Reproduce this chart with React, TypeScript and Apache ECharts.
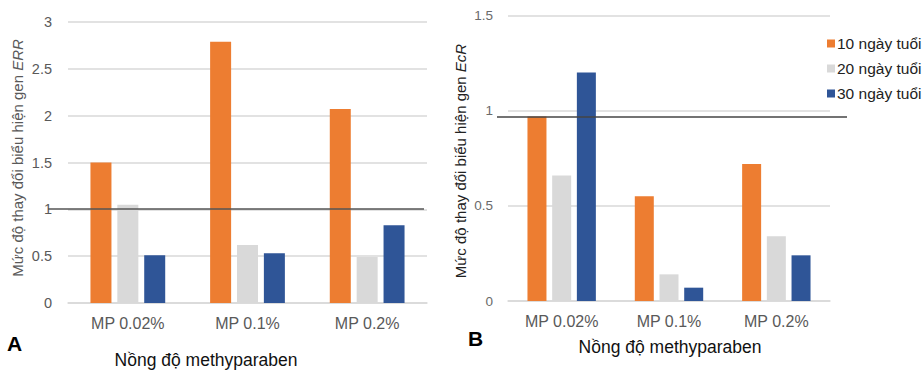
import React, { useEffect, useRef } from "react";
import * as echarts from "echarts";

const categories = ["MP 0.02%", "MP 0.1%", "MP 0.2%"];
const seriesNames = ["10 ngày tuổi", "20 ngày tuổi", "30 ngày tuổi"];
const colors = ["#ED7D31", "#D9D9D9", "#2F5597"];

// Panel A: ERR
const errDay10 = [1.5, 2.79, 2.07];
const errDay20 = [1.05, 0.62, 0.49];
const errDay30 = [0.51, 0.53, 0.83];
const errRefLine = 1.01;

// Panel B: EcR
const ecrDay10 = [0.97, 0.55, 0.72];
const ecrDay20 = [0.66, 0.14, 0.34];
const ecrDay30 = [1.2, 0.07, 0.24];
const ecrRefLine = 0.968;

const FONT = "Liberation Sans, Arial, sans-serif";

export default function App() {
  const ref = useRef<HTMLDivElement>(null);

  useEffect(() => {
    if (!ref.current) return;
    const chart = echarts.init(ref.current, undefined, { renderer: "svg" });

    const mkSeries = (
      name: string,
      data: number[],
      color: string,
      idx: number,
      barWidth: number,
      barGap: string,
      markLine?: any
    ) => ({
      type: "bar",
      name,
      data,
      xAxisIndex: idx,
      yAxisIndex: idx,
      barWidth,
      barGap,
      itemStyle: { color },
      markLine,
    });

    const lineA = {
      silent: true,
      symbol: "none",
      label: { show: false },
      lineStyle: { color: "#555555", width: 1.5, type: "solid" },
      data: [[{ xAxis: 0, yAxis: errRefLine, x: 48 }, { xAxis: 2, yAxis: errRefLine, x: 424 }]],
    };
    const lineB = {
      silent: true,
      symbol: "none",
      label: { show: false },
      lineStyle: { color: "#444444", width: 1.5, type: "solid" },
      data: [[{ xAxis: 0, yAxis: ecrRefLine, x: 497 }, { xAxis: 2, yAxis: ecrRefLine, x: 847 }]],
    };

    const xAxisCommon = {
      type: "category",
      data: categories,
      axisLine: { lineStyle: { color: "#d9d9d9", width: 1.5 } },
      axisTick: { show: false },
      axisLabel: { color: "#595959", fontSize: 16, fontFamily: FONT, margin: 12 },
    };

    chart.setOption({
      animation: false,
      textStyle: { fontFamily: FONT },
      legend: {
        data: seriesNames,
        orient: "vertical",
        left: 822,
        top: 30.5,
        itemWidth: 8,
        itemHeight: 8,
        itemGap: 9,
        icon: "rect",
        textStyle: { fontSize: 15.5, color: "#222", fontFamily: FONT, padding: [0, 0, 0, -3] },
      },
      grid: [
        { left: 68, top: 22, width: 359, height: 281 },
        { left: 508, top: 15.5, width: 322, height: 285.5 },
      ],
      xAxis: [
        { ...xAxisCommon, gridIndex: 0 },
        { ...xAxisCommon, gridIndex: 1 },
      ],
      yAxis: [
        {
          type: "value",
          gridIndex: 0,
          min: 0,
          max: 3,
          interval: 0.5,
          axisLine: { show: false },
          axisTick: { show: false },
          splitLine: { lineStyle: { color: "#d9d9d9", width: 1.5 } },
          axisLabel: { color: "#595959", fontSize: 14.5, fontFamily: FONT, margin: 16 },
        },
        {
          type: "value",
          gridIndex: 1,
          min: 0,
          max: 1.5,
          interval: 0.5,
          axisLine: { show: false },
          axisTick: { show: false },
          splitLine: { lineStyle: { color: "#d9d9d9", width: 1.5 } },
          axisLabel: { color: "#6a6a6a", fontSize: 13.5, fontFamily: FONT, margin: 15 },
        },
      ],
      series: [
        mkSeries(seriesNames[0], errDay10, colors[0], 0, 21, "28%", lineA),
        mkSeries(seriesNames[1], errDay20, colors[1], 0, 21, "28%"),
        mkSeries(seriesNames[2], errDay30, colors[2], 0, 21, "28%"),
        mkSeries(seriesNames[0], ecrDay10, colors[0], 1, 19, "30%", lineB),
        mkSeries(seriesNames[1], ecrDay20, colors[1], 1, 19, "30%"),
        mkSeries(seriesNames[2], ecrDay30, colors[2], 1, 19, "30%"),
      ],
      graphic: [
        {
          type: "text",
          x: 17,
          y: 158,
          rotation: Math.PI / 2,
          style: {
            text: "{n|Mức độ thay đổi biểu hiện gen }{i|ERR}",
            align: "center",
            verticalAlign: "middle",
            rich: {
              n: { fontSize: 15, fontFamily: FONT, fill: "#595959" },
              i: { fontSize: 15, fontFamily: FONT, fill: "#595959", fontStyle: "italic" },
            },
          },
        },
        {
          type: "text",
          x: 460,
          y: 161,
          rotation: Math.PI / 2,
          style: {
            text: "{n|Mức độ thay đổi biểu hiện gen }{i|EcR}",
            align: "center",
            verticalAlign: "middle",
            rich: {
              n: { fontSize: 15, fontFamily: FONT, fill: "#222222" },
              i: { fontSize: 15, fontFamily: FONT, fill: "#222222", fontStyle: "italic" },
            },
          },
        },
        {
          type: "text",
          x: 206,
          y: 360,
          style: {
            text: "Nồng độ methyparaben",
            fontSize: 17.5,
            fontFamily: FONT,
            fill: "#111",
            align: "center",
            verticalAlign: "middle",
          },
        },
        {
          type: "text",
          x: 670,
          y: 347,
          style: {
            text: "Nồng độ methyparaben",
            fontSize: 17.5,
            fontFamily: FONT,
            fill: "#111",
            align: "center",
            verticalAlign: "middle",
          },
        },
        {
          type: "text",
          x: 14.5,
          y: 343,
          style: {
            text: "A",
            fontSize: 21,
            fontWeight: "bold",
            fontFamily: FONT,
            fill: "#000",
            align: "center",
            verticalAlign: "middle",
          },
        },
        {
          type: "text",
          x: 475.5,
          y: 338,
          style: {
            text: "B",
            fontSize: 21,
            fontWeight: "bold",
            fontFamily: FONT,
            fill: "#000",
            align: "center",
            verticalAlign: "middle",
          },
        },
      ],
    });

    return () => chart.dispose();
  }, []);

  return (
    <div
      ref={ref}
      style={{ position: "absolute", left: 0, top: 0, width: 923, height: 370, background: "#fff" }}
    />
  );
}
